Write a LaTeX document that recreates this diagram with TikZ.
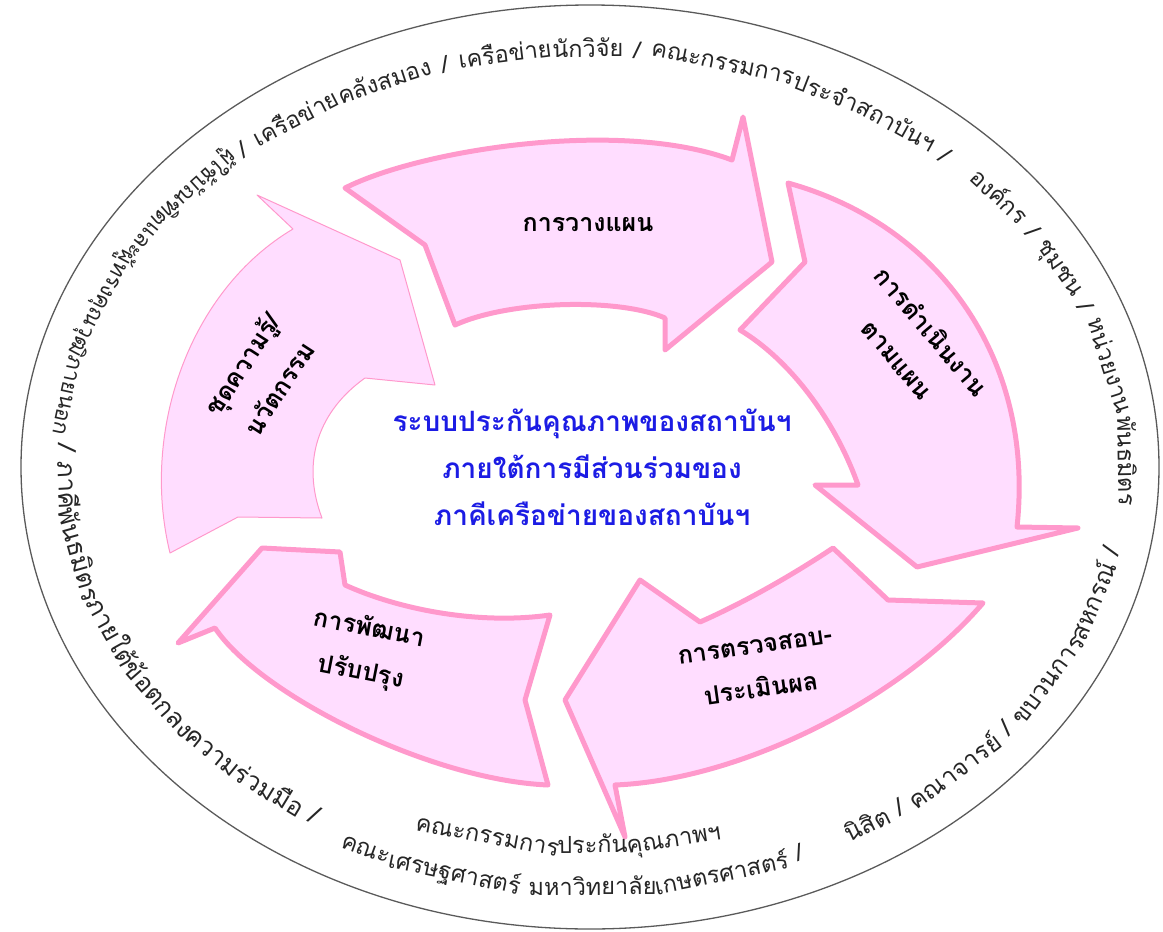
\documentclass[tikz,border=0pt]{standalone}
\usepackage{fontspec}
\newfontfamily\thaifont[Script=Thai]{Loma}
\definecolor{pfill}{RGB}{255,221,255}
\definecolor{pline}{RGB}{255,153,204}
\definecolor{ctext}{RGB}{28,28,228}
\definecolor{eline}{RGB}{90,90,90}
\newcounter{otc}
\newbox\wbox
\def\runsize{24}
\newcommand\otfont{\thaifont\fontsize{\runsize}{26}\selectfont}
\def\gapw{10}
% start a run of text along an ellipse centred at (590,467)
% #1,#2 start point, #3,#4 radii, #5 direction (+1 clockwise, -1 anticlockwise), #6 font size
\newcommand\setrun[6]{%
  \pgfmathsetmacro\tmpphi{atan2((#2-467)/#4,(#1-590)/#3)}%
  \xdef\rphi{\tmpphi}\xdef\ra{#3}\xdef\rb{#4}\xdef\rsg{#5}\xdef\runsize{#6}}
% place one chunk; #1 = gap after it
\newcommand\rchunk[2]{%
  \stepcounter{otc}%
  \path node[inner sep=0pt,outer sep=0pt] (mw\theotc) at (0,0) {\global\setbox\wbox=\hbox{\otfont #2}};%
  \edef\wl{\the\wd\wbox}%
  \pgfmathsetmacro\rs{100*sqrt((\ra/100*sin(\rphi))^2+(\rb/100*cos(\rphi))^2)}%
  \pgfmathsetmacro\rmid{\rphi+(\rsg)*((\wl)/2)/\rs*57.29578}%
  \pgfmathsetmacro\rs{100*sqrt((\ra/100*sin(\rmid))^2+(\rb/100*cos(\rmid))^2)}%
  \pgfmathsetmacro\rx{590+\ra*cos(\rmid)}%
  \pgfmathsetmacro\ry{467+\rb*sin(\rmid)}%
  \pgfmathsetmacro\rrot{atan2(-(\rsg)*\rb*cos(\rmid),-(\rsg)*\ra*sin(\rmid))}%
  \node[otext,rotate=\rrot,anchor=base] (ot\theotc) at (\rx,\ry) {#2};%
  \pgfmathsetmacro\rnew{\rphi+(\rsg)*((\wl)+#1)/\rs*57.29578}%
  \xdef\rphi{\rnew}}
\newcommand\rw[1]{\rchunk{\gapw}{#1}}
\newcommand\rc[1]{\rchunk{0}{#1}}
\begin{document}
\begin{tikzpicture}[x=1pt,y=-1pt,
  otext/.style={inner sep=0pt,font=\otfont,text=black!85},
  bigarrow/.style={fill=pfill,draw=pline,line width=5pt,line join=round},
  thinarrow/.style={fill=pfill,draw=pline,line width=1pt,line join=round},
  albl/.style={font=\thaifont\bfseries\fontsize{25}{44}\selectfont,align=center,inner sep=0pt},
  ctr/.style={font=\thaifont\bfseries\fontsize{28}{47}\selectfont,align=center,text=ctext,inner sep=0pt}]
\useasboundingbox (0,0) rectangle (1163,932);
\draw[eline,line width=1.3pt] (590,467) ellipse [x radius=569, y radius=462];

% arrow 5 (left, thin outline)
\path[thinarrow] (170,553) .. controls (140,430) and (190,290) .. (293,229)
  -- (257,195) -- (400,260) -- (435,385) -- (365,378)
  .. controls (320,410) and (300,460) .. (322,518) -- (238,517) -- cycle;
% arrow 1 (top)
\path[bigarrow] (345,188) .. controls (420,150) and (620,118) .. (732,160)
  -- (743,117) -- (772,262) -- (665,350) -- (665,318)
  .. controls (620,298) and (510,300) .. (455,325) -- (425,245) -- cycle;
% arrow 2 (right)
\path[bigarrow] (788,183) .. controls (940,225) and (1035,360) .. (1017,527)
  -- (1078,528) -- (917,567) -- (815,485) -- (858,485)
  .. controls (835,420) and (790,360) .. (740,330) -- (805,262) -- cycle;
% arrow 3 (bottom right)
\path[bigarrow] (983,603) .. controls (900,700) and (740,780) .. (615,785)
  -- (625,837) -- (565,700) -- (640,580) -- (700,622)
  .. controls (750,600) and (800,570) .. (833,548) -- (888,600) -- cycle;
% arrow 4 (bottom left)
\path[bigarrow] (548,785) .. controls (430,780) and (260,695) .. (215,628)
  -- (178,643) -- (262,548) -- (340,552) -- (345,585)
  .. controls (400,610) and (480,625) .. (550,615) -- (525,700) -- cycle;

% arrow labels
\node[albl] (l1) at (588,225) {การวางแผน};
\node[albl,rotate=-50] (l2) at (915,345) {การดำเนินงาน\\ตามแผน};
\node[albl,rotate=8] (l3) at (758,668) {การตรวจสอบ-\\ประเมินผล};
\node[albl,rotate=-11] (l4) at (365,651) {การพัฒนา\\ปรับปรุง};
\node[albl,rotate=57] (l5) at (260,376) {ชุดความรู้/\\นวัตกรรม};

% centre text
\node[ctr] (centre) at (592,467) {ระบบประกันคุณภาพของสถาบันฯ\\ภายใต้การมีส่วนร่วมของ\\ภาคีเครือข่ายของสถาบันฯ};

% outer text, upper part (clockwise, tops outwards)
\setrun{246}{160}{524}{410}{1}{23.5}
\rw{/}\rc{เครือข่าย}\rw{คลังสมอง}\rw{/}\rc{เครือข่าย}\rw{นักวิจัย}\rw{/}%
\rc{คณะกรรมการ}\rc{ประจำ}\rw{สถาบันฯ}\rw{/}
\setrun{965}{183}{528}{410}{1}{23.5}
\rw{องค์กร}\rw{/}\rw{ชุมชน}\rw{/}\rc{หน่วยงาน}\rw{พันธมิตร}
% outer text, lower part (anticlockwise, tops inwards)
\setrun{232}{153}{537}{427}{-1}{22}
\rc{ผู้ใช้บัณฑิต}\rc{และ}\rc{ผู้ทรงคุณวุฒิ}\rw{ภายนอก}
\setrun{40}{443}{532}{419}{-1}{25.5}
\rw{/}\rc{ภาคี}\rc{พันธมิตร}\rc{ภายใต้}\rc{ข้อตกลง}\rc{ความ}\rw{ร่วมมือ}\rw{/}
\setrun{338}{850}{540}{428}{-1}{23.5}
\rc{คณะ}\rw{เศรษฐศาสตร์}\rc{มหาวิทยาลัย}\rw{เกษตรศาสตร์}\rw{/}
\setrun{852}{846}{540}{428}{-1}{24.5}
\rw{นิสิต}\rw{/}\rw{คณาจารย์}\rw{/}\rc{ขบวนการ}\rw{สหกรณ์}\rw{/}
\setrun{411}{834}{470}{386}{-1}{23.5}
\rc{คณะกรรมการ}\rc{ประกัน}\rw{คุณภาพฯ}
\end{tikzpicture}
\end{document}
